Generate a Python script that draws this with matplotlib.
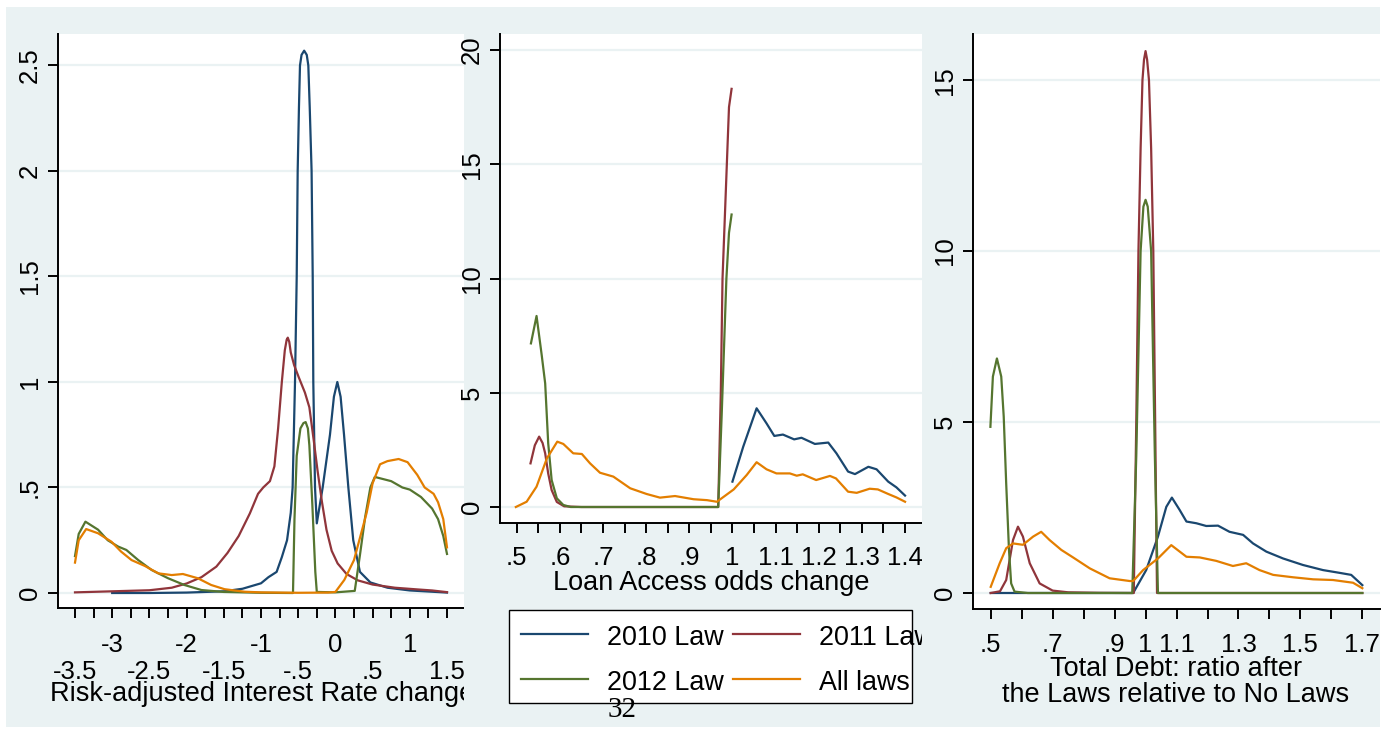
import matplotlib
matplotlib.use("Agg")
import matplotlib.pyplot as plt
from matplotlib.transforms import Affine2D
from matplotlib.patches import Rectangle
from matplotlib.lines import Line2D
from matplotlib.ticker import FixedLocator, FixedFormatter

# ---------------- data ----------------
series_labels = ["2010 Law", "2011 Law", "2012 Law", "All laws"]
colors = ["#1a476f", "#90353b", "#55752f", "#e37e00"]

# Panel 1: Risk-adjusted interest rate change
p1_x_2010 = [-3.0, -2.5, -2.0, -1.5, -1.25, -1.0, -0.9, -0.79, -0.72, -0.65, -0.6, -0.575, -0.543, -0.52,
             -0.507, -0.49, -0.476, -0.455, -0.42, -0.385, -0.364, -0.345, -0.32, -0.305, -0.297, -0.274,
             -0.25, -0.171, -0.073, -0.02, 0.026, 0.07, 0.116, 0.174, 0.24, 0.33, 0.47, 0.7, 1.0, 1.5]
p1_y_2010 = [0.0, 0.0, 0.002, 0.008, 0.02, 0.046, 0.075, 0.1, 0.17, 0.25, 0.38, 0.5, 1.0, 1.5,
             2.0, 2.3, 2.5, 2.55, 2.57, 2.55, 2.5, 2.3, 2.0, 1.5, 1.0, 0.5,
             0.33, 0.5, 0.75, 0.93, 1.0, 0.93, 0.75, 0.5, 0.25, 0.1, 0.05, 0.025, 0.012, 0.002]
p1_x_2011 = [-3.5, -3.0, -2.5, -2.2, -2.0, -1.8, -1.6, -1.45, -1.3, -1.15, -1.04, -0.97, -0.88, -0.82,
             -0.77, -0.72, -0.68, -0.655, -0.64, -0.62, -0.6, -0.555, -0.49, -0.41, -0.35, -0.29, -0.24,
             -0.18, -0.12, -0.05, 0.03, 0.15, 0.3, 0.5, 0.8, 1.1, 1.3, 1.5]
p1_y_2011 = [0.003, 0.008, 0.013, 0.025, 0.045, 0.075, 0.125, 0.19, 0.27, 0.377, 0.47, 0.5, 0.53, 0.6,
             0.78, 1.0, 1.15, 1.2, 1.21, 1.19, 1.14, 1.08, 1.02, 0.95, 0.88, 0.72, 0.58,
             0.43, 0.3, 0.2, 0.14, 0.09, 0.06, 0.04, 0.025, 0.017, 0.012, 0.004]
p1_x_2012 = [-3.5, -3.45, -3.36, -3.19, -3.06, -2.92, -2.81, -2.65, -2.47, -2.25, -2.03, -1.8, -1.5, -1.0,
             -0.57, -0.55, -0.52, -0.47, -0.43, -0.40, -0.37, -0.35, -0.31, -0.27, -0.25, 0.0, 0.26, 0.33,
             0.4, 0.47, 0.53, 0.75, 0.9, 1.0, 1.15, 1.3, 1.38, 1.45, 1.5]
p1_y_2012 = [0.175, 0.28, 0.338, 0.30, 0.25, 0.22, 0.204, 0.156, 0.109, 0.07, 0.038, 0.014, 0.005, 0.001,
             0.0, 0.35, 0.65, 0.78, 0.805, 0.81, 0.78, 0.7, 0.42, 0.1, 0.005, 0.003, 0.01, 0.18,
             0.36, 0.5, 0.55, 0.53, 0.5, 0.49, 0.455, 0.4, 0.35, 0.27, 0.185]
p1_x_all = [-3.5, -3.45, -3.35, -3.19, -3.01, -2.88, -2.74, -2.56, -2.38, -2.2, -2.05, -1.85, -1.67, -1.49,
            -1.22, -1.0, -0.5, -0.1, 0.0, 0.12, 0.25, 0.42, 0.5, 0.6, 0.7, 0.85, 0.97, 1.1, 1.2, 1.32,
            1.38, 1.45, 1.5]
p1_y_all = [0.144, 0.25, 0.303, 0.283, 0.243, 0.196, 0.156, 0.128, 0.093, 0.085, 0.09, 0.07, 0.038, 0.018,
            0.006, 0.003, 0.001, 0.002, 0.005, 0.062, 0.156, 0.38, 0.52, 0.61, 0.625, 0.635, 0.62, 0.56, 0.5,
            0.47, 0.43, 0.35, 0.216]

# Panel 2: Loan access odds change
p2_x_2010 = [1.0, 1.025, 1.056, 1.079, 1.097, 1.117, 1.143, 1.16, 1.191, 1.222, 1.241, 1.268, 1.284,
             1.315, 1.334, 1.361, 1.38, 1.4]
p2_y_2010 = [1.11, 2.64, 4.32, 3.66, 3.11, 3.17, 2.96, 3.03, 2.76, 2.82, 2.35, 1.55, 1.44,
             1.76, 1.65, 1.11, 0.86, 0.5]
p2_x_2011 = [0.532, 0.542, 0.552, 0.56, 0.566, 0.573, 0.581, 0.593, 0.61, 0.65, 0.967, 0.973, 0.977,
             0.987, 0.992, 0.998]
p2_y_2011 = [1.91, 2.7, 3.08, 2.8, 2.35, 1.47, 0.74, 0.22, 0.03, 0.0, 0.0, 5.0, 10.0,
             15.0, 17.5, 18.3]
p2_x_2012 = [0.533, 0.546, 0.558, 0.566, 0.573, 0.581, 0.593, 0.608, 0.625, 0.967, 0.975, 0.986, 0.992, 0.998]
p2_y_2012 = [7.16, 8.36, 6.64, 5.41, 2.79, 1.18, 0.38, 0.09, 0.0, 0.0, 4.0, 10.0, 12.0, 12.8]
p2_x_all = [0.498, 0.523, 0.546, 0.57, 0.594, 0.608, 0.631, 0.651, 0.67, 0.693, 0.724, 0.763, 0.801,
            0.832, 0.867, 0.91, 0.941, 0.964, 1.003, 1.033, 1.056, 1.079, 1.102, 1.133, 1.149, 1.163,
            1.194, 1.226, 1.24, 1.268, 1.288, 1.318, 1.337, 1.361, 1.38, 1.4]
p2_y_all = [0.0, 0.23, 0.89, 2.13, 2.86, 2.76, 2.35, 2.32, 1.91, 1.5, 1.33, 0.82, 0.57,
            0.41, 0.48, 0.34, 0.3, 0.23, 0.77, 1.4, 1.96, 1.65, 1.47, 1.47, 1.37, 1.43,
            1.18, 1.36, 1.25, 0.67, 0.62, 0.8, 0.77, 0.57, 0.42, 0.23]

# Panel 3: Total debt ratio
p3_x_2010 = [0.5, 0.96, 1.002, 1.04, 1.067, 1.085, 1.11, 1.132, 1.164, 1.196, 1.234, 1.271, 1.315,
             1.347, 1.39, 1.444, 1.508, 1.573, 1.626, 1.664, 1.7]
p3_y_2010 = [0.0, 0.0, 0.67, 1.65, 2.52, 2.79, 2.43, 2.09, 2.04, 1.96, 1.97, 1.79, 1.7,
             1.45, 1.21, 1.01, 0.82, 0.67, 0.59, 0.53, 0.23]
p3_x_2011 = [0.5, 0.53, 0.55, 0.572, 0.588, 0.604, 0.626, 0.658, 0.7, 0.75, 0.85, 0.962, 0.97, 0.977,
             0.984, 0.99, 0.995, 1.0, 1.005, 1.011, 1.018, 1.025, 1.031, 1.037, 1.1, 1.7]
p3_y_2011 = [0.0, 0.05, 0.38, 1.55, 1.94, 1.65, 0.87, 0.28, 0.07, 0.02, 0.005, 0.0, 5.0, 10.0,
             13.0, 15.0, 15.6, 15.85, 15.6, 15.0, 13.0, 10.0, 5.0, 0.0, 0.0, 0.0]
p3_x_2012 = [0.499, 0.507, 0.52, 0.534, 0.542, 0.55, 0.559, 0.566, 0.577, 0.62, 0.957, 0.97, 0.984,
             0.993, 1.0, 1.007, 1.018, 1.03, 1.04, 1.7]
p3_y_2012 = [4.86, 6.33, 6.86, 6.33, 5.16, 3.2, 1.26, 0.28, 0.04, 0.0, 0.0, 4.0, 10.0,
             11.3, 11.5, 11.3, 10.0, 4.0, 0.0, 0.0]
p3_x_all = [0.5, 0.529, 0.55, 0.572, 0.604, 0.637, 0.663, 0.69, 0.728, 0.766, 0.82, 0.884, 0.949, 0.96,
            0.992, 1.04, 1.083, 1.132, 1.175, 1.228, 1.282, 1.325, 1.368, 1.412, 1.476, 1.541, 1.605,
            1.67, 1.7]
p3_y_all = [0.18, 0.87, 1.31, 1.45, 1.41, 1.65, 1.79, 1.55, 1.26, 1.04, 0.72, 0.43, 0.35, 0.35,
            0.67, 1.01, 1.4, 1.06, 1.04, 0.94, 0.79, 0.87, 0.67, 0.53, 0.46, 0.4, 0.38,
            0.3, 0.14]

# ticks
p1_yticks = [0, 0.5, 1, 1.5, 2, 2.5]
p1_ytick_labels = ["0", ".5", "1", "1.5", "2", "2.5"]
p1_xticks_major = [-3, -2, -1, 0, 1]
p1_xtick_labels_major = ["-3", "-2", "-1", "0", "1"]
p1_xticks_minor = [-3.5, -3.25, -2.75, -2.5, -2.25, -1.75, -1.5, -1.25, -0.75, -0.5, -0.25,
                   0.25, 0.5, 0.75, 1.25, 1.5]
p1_xtick_labels_minor = ["-3.5", "", "", "-2.5", "", "", "-1.5", "", "", "-.5", "",
                         "", ".5", "", "", "1.5"]
p2_yticks = [0, 5, 10, 15, 20]
p2_ytick_labels = ["0", "5", "10", "15", "20"]
p2_xticks_major = [0.5, 0.6, 0.7, 0.8, 0.9, 1.0, 1.1, 1.2, 1.3, 1.4]
p2_xtick_labels = [".5", ".6", ".7", ".8", ".9", "1", "1.1", "1.2", "1.3", "1.4"]
p2_xticks_minor = [0.55, 0.65, 0.75, 0.85, 0.95, 1.05, 1.15, 1.25, 1.35]
p3_yticks = [0, 5, 10, 15]
p3_ytick_labels = ["0", "5", "10", "15"]
p3_xticks_major = [0.5, 0.7, 0.9, 1.0, 1.1, 1.3, 1.5, 1.7]
p3_xtick_labels = [".5", ".7", ".9", "1", "1.1", "1.3", "1.5", "1.7"]
p3_xticks_minor = [0.6, 0.8, 1.2, 1.4, 1.6]

# ---------------- figure ----------------
W, H = 1394, 729
BG = "#eaf2f3"
plt.rcParams["font.family"] = ["Liberation Sans", "DejaVu Sans"]
fig = plt.figure(figsize=(W / 100, H / 100), dpi=100, facecolor="white")
PX = Affine2D().scale(1 / W, -1 / H).translate(0, 1) + fig.transFigure

TICK_FS = 18.5
LAB_FS = 19.5
LEG_FS = 19.4
LW = 1.6


def bg_rect(x0, y0, x1, y1, z):
    fig.patches.append(Rectangle((x0, y0), x1 - x0, y1 - y0, transform=PX,
                                 facecolor=BG, edgecolor="none", zorder=z))


def make_ax(x0, y0, x1, y1, z):
    ax = fig.add_axes([x0 / W, 1 - y1 / H, (x1 - x0) / W, (y1 - y0) / H], zorder=z)
    ax.set_facecolor("white")
    for s in ("top", "right"):
        ax.spines[s].set_visible(False)
    for s in ("left", "bottom"):
        ax.spines[s].set_linewidth(1.4)
        ax.spines[s].set_color("black")
    ax.set_axisbelow(True)
    ax.yaxis.grid(True, color=BG, lw=1.6)
    ax.tick_params(which="both", length=7.2, width=1.4, labelsize=TICK_FS, color="black")
    ax.tick_params(axis="y", pad=4.5)
    return ax


def yticks(ax, vals, labels):
    ax.set_yticks(vals)
    ax.set_yticklabels(labels, rotation=90, va="center")


def draw(ax, xs, ys):
    for x, y, c in zip(xs, ys, colors):
        ax.plot(x, y, color=c, lw=LW, solid_joinstyle="round")


# background for whole graph region (panel 1)
bg_rect(6, 7, 464, 727, 0)

# ---- panel 1
ax1 = make_ax(58, 34, 464, 608, 1)
draw(ax1, [p1_x_2010, p1_x_2011, p1_x_2012, p1_x_all], [p1_y_2010, p1_y_2011, p1_y_2012, p1_y_all])
ax1.set_xlim(-3.7285, 1.7285)
ax1.set_ylim(-0.0711, 2.649)
yticks(ax1, p1_yticks, p1_ytick_labels)
ax1.xaxis.set_major_locator(FixedLocator(p1_xticks_major))
ax1.xaxis.set_major_formatter(FixedFormatter(p1_xtick_labels_major))
ax1.xaxis.set_minor_locator(FixedLocator(p1_xticks_minor))
ax1.xaxis.set_minor_formatter(FixedFormatter(p1_xtick_labels_minor))
ax1.tick_params(axis="x", which="major", pad=10.5)
ax1.tick_params(axis="x", which="minor", pad=30)
ax1.text(50, 701.5, "Risk-adjusted Interest Rate change", transform=PX, fontsize=LAB_FS,
         ha="left", va="baseline", clip_on=False)

# ---- panel 2
bg_rect(464, 7, 922, 727, 2)
ax2 = make_ax(500, 34, 922, 523, 3)
draw(ax2, [p2_x_2010, p2_x_2011, p2_x_2012, p2_x_all], [p2_y_2010, p2_y_2011, p2_y_2012, p2_y_all])
ax2.set_xlim(0.4613, 1.4393)
ax2.set_ylim(-0.70, 20.70)
yticks(ax2, p2_yticks, p2_ytick_labels)
ax2.set_xticks(p2_xticks_major)
ax2.set_xticklabels(p2_xtick_labels)
ax2.set_xticks(p2_xticks_minor, minor=True)
ax2.tick_params(axis="x", which="both", pad=9.2)
ax2.text(711, 590, "Loan Access odds change", transform=PX, fontsize=LAB_FS,
         ha="center", va="baseline", clip_on=False)

# legend (drawn manually, overflows box as in original)
ax2.add_patch(Rectangle((509, 610), 403, 93, transform=PX, facecolor="white",
                        edgecolor="black", lw=1.0, clip_on=False))
leg_pos = [(521, 588, 607, 634.3), (733, 800, 819, 634.3), (521, 588, 607, 679.3), (733, 800, 819, 679.3)]
for (lx0, lx1, tx, ly), lab, c in zip(leg_pos, series_labels, colors):
    ax2.add_line(Line2D([lx0, lx1], [ly, ly], transform=PX, color=c, lw=LW, clip_on=False))
    ax2.text(tx, ly + 10.8, lab, transform=PX, fontsize=LEG_FS, ha="left", va="baseline", clip_on=False)

# ---- panel 3
bg_rect(922, 7, 1380, 727, 4)
ax3 = make_ax(973, 34, 1380, 609, 5)
draw(ax3, [p3_x_2010, p3_x_2011, p3_x_2012, p3_x_all], [p3_y_2010, p3_y_2011, p3_y_2012, p3_y_all])
ax3.set_xlim(0.4428, 1.757)
ax3.set_ylim(-0.468, 16.35)
yticks(ax3, p3_yticks, p3_ytick_labels)
ax3.set_xticks(p3_xticks_major)
ax3.set_xticklabels(p3_xtick_labels)
ax3.set_xticks(p3_xticks_minor, minor=True)
ax3.tick_params(axis="x", which="both", pad=10)
ax3.text(1176.5, 675.7, "Total Debt: ratio after", transform=PX, fontsize=LAB_FS,
         ha="center", va="baseline", clip_on=False)
ax3.text(1175.5, 701.7, "the Laws relative to No Laws", transform=PX, fontsize=LAB_FS,
         ha="center", va="baseline", clip_on=False)

# page number
fig.text(622, 716.7, "32", transform=PX, fontsize=21, ha="center", va="baseline",
         family=["Liberation Serif", "DejaVu Serif"], zorder=10)

fig.savefig("out.png", dpi=100, facecolor="white")
